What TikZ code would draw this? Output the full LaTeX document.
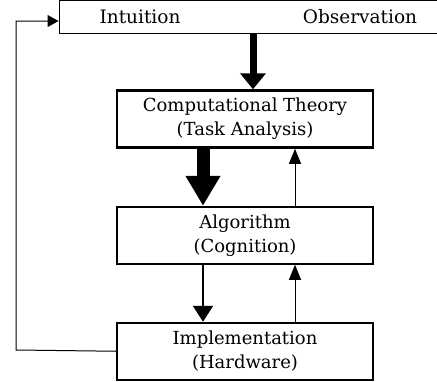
\documentclass[tikz,border=0pt]{standalone}
\usepackage{fontspec}
\setmainfont{DejaVu Serif}
\usetikzlibrary{arrows.meta, positioning}

\begin{document}
\begin{tikzpicture}[x=1pt, y=-1pt]
\tikzstyle{level}=[rectangle, draw=black, line width=2pt, minimum width=256pt, minimum height=57pt, align=center, font=\fontsize{18}{24}\selectfont, node distance=57pt]
\tikzstyle{word}=[inner sep=0pt, font=\fontsize{18.5}{24}\selectfont]
\tikzstyle{down}=[-{Triangle[width=33pt, length=30pt]}, line width=13pt]
\tikzstyle{downmid}=[-{Triangle[width=20pt, length=16pt]}, line width=2pt]
\tikzstyle{up}=[-{Triangle[width=12pt, length=15pt]}, line width=1pt]
\useasboundingbox (0,0) rectangle (437,381);
    \node[rectangle, draw=black, line width=1pt, minimum width=378pt, minimum height=33pt] (top) at (248,17) { };
    \node[word] (intuition) at (140,17) {Intuition};
    \node[word] (observation) at (360,17) {Observation};
    \node[level, line width=2.5pt] (theory) at (245,119) {Computational Theory\\(Task Analysis)};
    \node[level] (algorithm) [below=of theory] {Algorithm\\(Cognition)};
    \node[level] (implementation) [below=of algorithm] {Implementation\\(Hardware)};
    % top-down arrows
    \draw[-{Triangle[width=25pt, length=16pt]}, line width=7pt] ([xshift=5pt]top.south) -- ([xshift=5pt]top.south |- theory.north);
    \draw[down] ([xshift=-42pt]theory.south) -- ([xshift=-42pt]algorithm.north);
    \draw[downmid] ([xshift=-42pt]algorithm.south) -- ([xshift=-42pt]implementation.north);
    % bottom-up arrows
    \draw[up] ([xshift=50pt]algorithm.north) -- ([xshift=50pt]theory.south);
    \draw[up] ([xshift=50pt]implementation.north) -- ([xshift=50pt]algorithm.south);
    % feedback loop
    \coordinate (corner) at (16,350);
    \draw[-{Triangle[width=12pt, length=11pt]}, line width=1pt] (implementation.west) -- (corner) -- (corner |- 0,21) -- (top.west |- 0,21);
\end{tikzpicture}
\end{document}
